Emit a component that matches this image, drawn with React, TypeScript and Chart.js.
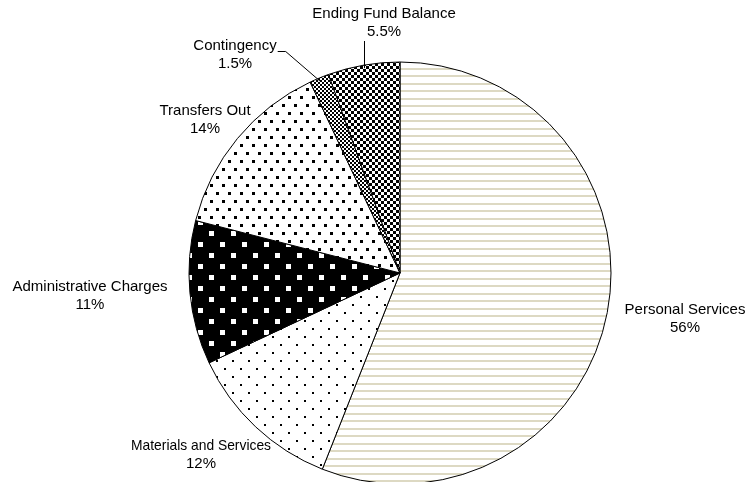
import React, { useEffect, useRef } from "react";
import { Chart, registerables } from "chart.js";

Chart.register(...registerables);

const CATEGORIES = [
  "Personal Services",
  "Materials and Services",
  "Administrative Charges",
  "Transfers Out",
  "Contingency",
  "Ending Fund Balance",
];
const VALUES = [56, 12, 11, 14, 1.5, 5.5];
const PERCENT_LABELS = ["56%", "12%", "11%", "14%", "1.5%", "5.5%"];

// label text centres (x, y of first line) in pixels
const LABEL_POS: [number, number][] = [
  [685, 310],
  [201, 446],
  [90, 287],
  [205, 111],
  [235, 46],
  [384, 14],
];
// optional maximum text widths (0 = none)
const LABEL_MAXW = [0, 140, 0, 0, 0, 0];

function makePattern(w: number, h: number, draw: (c: CanvasRenderingContext2D) => void) {
  const c = document.createElement("canvas");
  c.width = w;
  c.height = h;
  const x = c.getContext("2d")!;
  draw(x);
  return x.createPattern(c, "repeat")!;
}

function buildPatterns() {
  const ps = makePattern(8, 15, (x) => {
    x.fillStyle = "#ffffff";
    x.fillRect(0, 0, 8, 15);
    x.fillStyle = "#DDD9C3";
    x.fillRect(0, 0, 8, 2);
    x.fillRect(0, 8, 8, 2);
  });
  const ms = makePattern(16, 16, (x) => {
    x.fillStyle = "#ffffff";
    x.fillRect(0, 0, 16, 16);
    x.fillStyle = "#000000";
    x.fillRect(0, 0, 2, 2);
    x.fillRect(8, 8, 2, 2);
  });
  const ac = makePattern(22, 22, (x) => {
    x.fillStyle = "#000000";
    x.fillRect(0, 0, 22, 22);
    x.fillStyle = "#ffffff";
    x.fillRect(0, 0, 5, 5);
    x.fillRect(11, 11, 5, 5);
  });
  const to = makePattern(12, 16, (x) => {
    x.fillStyle = "#ffffff";
    x.fillRect(0, 0, 12, 16);
    x.fillStyle = "#000000";
    x.fillRect(0, 0, 3, 3);
    x.fillRect(6, 8, 3, 3);
  });
  const co = makePattern(4, 4, (x) => {
    x.fillStyle = "#ffffff";
    x.fillRect(0, 0, 4, 4);
    x.fillStyle = "#000000";
    x.fillRect(0, 0, 2, 2);
    x.fillRect(2, 2, 2, 2);
  });
  const efb = makePattern(6, 6, (x) => {
    x.fillStyle = "#ffffff";
    x.fillRect(0, 0, 6, 6);
    x.fillStyle = "#000000";
    x.fillRect(0, 0, 3, 3);
    x.fillRect(3, 3, 3, 3);
  });
  return [ps, ms, ac, to, co, efb];
}

const labelPlugin = {
  id: "sliceLabels",
  afterDraw(chart: any) {
    const ctx: CanvasRenderingContext2D = chart.ctx;
    const meta = chart.getDatasetMeta(0);
    ctx.save();
    ctx.font = '15px "Liberation Sans", Arial, sans-serif';
    ctx.fillStyle = "#000000";
    ctx.textAlign = "center";
    ctx.textBaseline = "middle";
    CATEGORIES.forEach((name, i) => {
      const [lx, ly] = LABEL_POS[i];
      if (LABEL_MAXW[i]) ctx.fillText(name, lx, ly, LABEL_MAXW[i]);
      else ctx.fillText(name, lx, ly);
      ctx.fillText(PERCENT_LABELS[i], lx, ly + 18);
    });
    // leader lines for the two small slices
    const arcPoint = (i: number, inset: number) => {
      const a = meta.data[i];
      const mid = (a.startAngle + a.endAngle) / 2;
      const r = a.outerRadius - inset;
      return [a.x + Math.cos(mid) * r, a.y + Math.sin(mid) * r];
    };
    ctx.strokeStyle = "#000000";
    ctx.lineWidth = 1;
    // Ending Fund Balance
    const [ex, ey] = arcPoint(5, 3);
    ctx.beginPath();
    ctx.moveTo(Math.round(ex) + 0.5, ey);
    ctx.lineTo(Math.round(ex) + 0.5, LABEL_POS[5][1] + 27);
    ctx.stroke();
    // Contingency
    const [cx, cy] = arcPoint(4, 4);
    const tw = ctx.measureText(CATEGORIES[4]).width;
    const sx = LABEL_POS[4][0] + tw / 2 + 1;
    const sy = LABEL_POS[4][1] + 5.5;
    ctx.beginPath();
    ctx.moveTo(sx, sy);
    ctx.lineTo(sx + 8, sy);
    ctx.lineTo(cx, cy);
    ctx.stroke();
    ctx.restore();
  },
};

export default function App() {
  const ref = useRef<HTMLCanvasElement>(null);
  useEffect(() => {
    const canvas = ref.current!;
    const patterns = buildPatterns();
    const chart = new Chart(canvas, {
      type: "pie",
      data: {
        labels: CATEGORIES,
        datasets: [
          {
            data: VALUES,
            backgroundColor: patterns as any,
            borderColor: "#000000",
            borderWidth: 1,
            radius: 211,
          } as any,
        ],
      },
      options: {
        responsive: false,
        animation: false,
        radius: 211,
        layout: { padding: { left: 50, top: 64, right: 0, bottom: 0 } },
        plugins: {
          legend: { display: false },
          tooltip: { enabled: false },
        },
      } as any,
      plugins: [labelPlugin],
    });
    return () => chart.destroy();
  }, []);
  return (
    <div style={{ position: "absolute", left: 0, top: 0, width: 750, height: 482, background: "#ffffff" }}>
      <canvas ref={ref} width={750} height={482} style={{ width: 750, height: 482 }} />
    </div>
  );
}
